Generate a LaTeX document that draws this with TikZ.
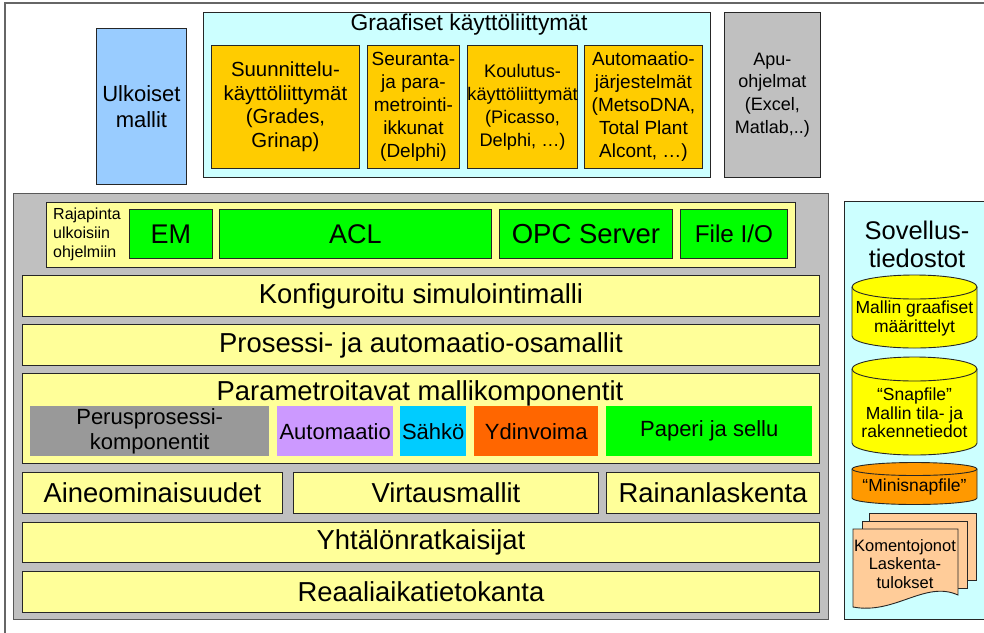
\documentclass[tikz,border=0pt]{standalone}
\usepackage{fontspec}
\setmainfont{Liberation Sans}
\definecolor{cGray}{HTML}{C0C0C0}
\definecolor{cYel}{HTML}{FFFF99}
\definecolor{cGreen}{HTML}{00FF00}
\definecolor{cCyan}{HTML}{CCFFFF}
\definecolor{cBlue}{HTML}{99CCFF}
\definecolor{cOrange}{HTML}{FFCC00}
\definecolor{cPerus}{HTML}{999999}
\definecolor{cAuto}{HTML}{CC99FF}
\definecolor{cSahko}{HTML}{00CCFF}
\definecolor{cYdin}{HTML}{FF6600}
\definecolor{cCyl}{HTML}{FFFF00}
\definecolor{cMini}{HTML}{FF9900}
\definecolor{cDoc}{HTML}{FFCC99}
\newcommand{\fsz}[2]{\fontsize{#1}{#2}\selectfont}
\tikzset{
  bx/.style={draw=black!85, line width=0.9pt, inner sep=0pt, anchor=north west, align=center},
  layer/.style={bx, fill=cYel, font=\fsz{27.4}{31}},
  grn/.style={bx, fill=cGreen, font=\fsz{27}{31}},
  org/.style={bx, fill=cOrange, font=\fsz{19}{23}},
  sub/.style={inner sep=0pt, anchor=north west, align=center, font=\fsz{22}{25}},
  lbl/.style={inner sep=0pt, align=center},
  cyl/.style={draw=black!85, line width=0.9pt},
  doc/.style={draw=black!85, line width=0.9pt, fill=cDoc},
}
\begin{document}
\begin{tikzpicture}[x=1pt, y=-1pt]
\useasboundingbox (0,0) rectangle (984,632);
\clip (0,0) rectangle (984,632);
\fill[white] (0,0) rectangle (984,632);
% outer frame
\draw[black!60, line width=1.2pt] (5,3) rectangle (1000,660);

% top row
\node[bx, fill=cBlue, minimum width=90pt, minimum height=156pt, font=\fsz{22}{26}] (ulk) at (96,28) {Ulkoiset\\mallit};
\node[bx, fill=cCyan, minimum width=507pt, minimum height=165pt] (gui) at (203,12) {};
\node[lbl, font=\fsz{22.8}{27}] (guit) at (469,25) {Graafiset käyttöliittymät};
\node[org, minimum width=148pt, minimum height=123pt, font=\fsz{20.4}{23.5}] (o1) at (211,45) {Suunnittelu-\\käyttöliittymät\\(Grades,\\Grinap)};
\node[org, minimum width=92pt, minimum height=123pt] (o2) at (367,45) {Seuranta-\\ja para-\\metrointi-\\ikkunat\\(Delphi)};
\node[org, minimum width=110pt, minimum height=123pt, font=\fsz{18.2}{23}] (o3) at (467,45) {Koulutus-\\käyttöliittymät\\(Picasso,\\Delphi, …)};
\node[org, minimum width=118pt, minimum height=123pt] (o4) at (584,45) {Automaatio-\\järjestelmät\\(MetsoDNA,\\Total Plant\\Alcont, …)};
\node[bx, fill=cGray, minimum width=96pt, minimum height=165pt, font=\fsz{18}{22.7}] (apu) at (724,12) {Apu-\\ohjelmat\\(Excel,\\Matlab,..)};

% core
\node[bx, draw=black!65, line width=1.4pt, fill=cGray, minimum width=815pt, minimum height=426pt] (core) at (13,193) {};
\node[bx, fill=cYel, minimum width=749pt, minimum height=65pt] (raj) at (46,202) {};
\node[lbl, anchor=west, align=left, font=\fsz{16}{19}] (rajt) at (53,234) {Rajapinta\\ulkoisiin\\ohjelmiin};
\node[grn, minimum width=83pt, minimum height=49pt] (em) at (129,209) {EM};
\node[grn, minimum width=272pt, minimum height=49pt] (acl) at (219,209) {ACL};
\node[grn, minimum width=173pt, minimum height=49pt, font=\fsz{27.5}{31}] (opc) at (499,209) {OPC Server};
\node[grn, minimum width=107pt, minimum height=49pt, font=\fsz{24.3}{28}] (fio) at (680,209) {File I/O};

\node[layer, minimum width=797pt, minimum height=41pt] (konf) at (22,275) {Konfiguroitu simulointimalli};
\node[layer, minimum width=797pt, minimum height=41pt] (pros) at (22,324) {Prosessi- ja automaatio-osamallit};
\node[layer, minimum width=797pt, minimum height=90pt] (param) at (22,373) {};
\node[lbl, font=\fsz{27.4}{31}] (paramt) at (420,393) {Parametroitavat mallikomponentit};
\node[sub, fill=cPerus, minimum width=239pt, minimum height=50pt] (perus) at (30,406) {Perusprosessi-\\komponentit};
\node[sub, fill=cAuto, minimum width=116pt, minimum height=50pt] (auto) at (277,406) {Automaatio};
\node[sub, fill=cSahko, minimum width=66pt, minimum height=50pt] (sahko) at (400,406) {Sähkö};
\node[sub, fill=cYdin, minimum width=124pt, minimum height=50pt] (ydin) at (474,406) {Ydinvoima};
\node[sub, fill=cGreen, minimum width=206pt, minimum height=50pt] (pap) at (606,406) {Paperi ja sellu};

\node[layer, minimum width=260pt, minimum height=41pt] (aine) at (22,472) {Aineominaisuudet};
\node[layer, minimum width=305pt, minimum height=41pt] (virt) at (293,472) {Virtausmallit};
\node[layer, minimum width=213pt, minimum height=41pt] (rain) at (606,472) {Rainanlaskenta};
\node[layer, minimum width=797pt, minimum height=40pt] (yht) at (22,522) {Yhtälönratkaisijat};
\node[layer, minimum width=797pt, minimum height=41pt] (reaa) at (22,571) {Reaaliaikatietokanta};

% application files
\node[bx, fill=cCyan, minimum width=146pt, minimum height=418pt] (sov) at (844,201) {};
\node[lbl, font=\fsz{25.5}{28}] (sovt) at (917,244) {Sovellus-\\tiedostot};

% cylinders
\filldraw[cyl, fill=cCyl] (852,287) -- (852,336) arc[start angle=180, end angle=0, x radius=62.5, y radius=12] -- (977,287) arc[start angle=0, end angle=-180, x radius=62.5, y radius=12] -- cycle;
\draw[cyl] (852,287) arc[start angle=180, end angle=0, x radius=62.5, y radius=12];
\node[lbl, font=\fsz{17.5}{19}] (c1) at (914.5,318) {Mallin graafiset\\määrittelyt};

\filldraw[cyl, fill=cCyl] (852,369) -- (852,443) arc[start angle=180, end angle=0, x radius=62.5, y radius=12] -- (977,369) arc[start angle=0, end angle=-180, x radius=62.5, y radius=12] -- cycle;
\draw[cyl] (852,369) arc[start angle=180, end angle=0, x radius=62.5, y radius=12];
\node[lbl, font=\fsz{17.5}{18.5}] (c2) at (914.5,413) {“Snapfile”\\Mallin tila- ja\\rakennetiedot};

\filldraw[cyl, fill=cMini] (852,469) -- (852,498) arc[start angle=180, end angle=0, x radius=62.5, y radius=6.5] -- (977,469) arc[start angle=0, end angle=-180, x radius=62.5, y radius=6.5] -- cycle;
\draw[cyl] (852,469) arc[start angle=180, end angle=0, x radius=62.5, y radius=6.5];
\node[lbl, font=\fsz{17.5}{19}] (c3) at (914.5,487) {“Minisnapfile”};

% documents
\draw[doc] (869,513) rectangle (976,580);
\draw[doc] (862,521) rectangle (967,588);
\draw[doc] (853,529) -- (958,529) -- (958,595) .. controls (925,580) and (895,615) .. (853,607) -- cycle;
\node[lbl, font=\fsz{16.5}{18.5}] (docs) at (905,564) {Komentojonot\\Laskenta-\\tulokset};
\end{tikzpicture}
\end{document}
